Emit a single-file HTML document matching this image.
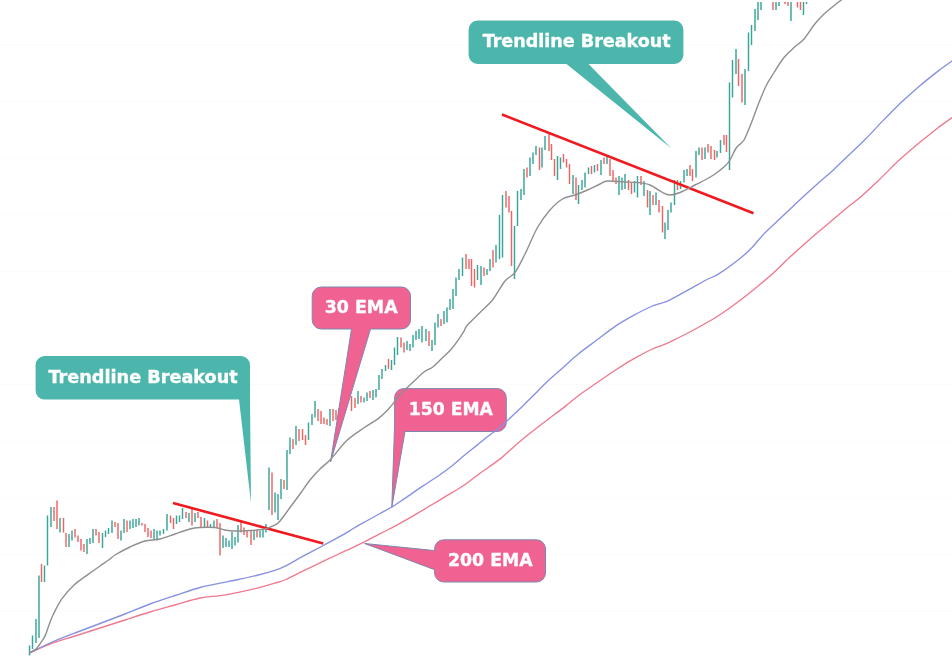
<!DOCTYPE html>
<html><head><meta charset="utf-8"><title>EMA Trendline Breakout</title>
<style>
html,body{margin:0;padding:0;background:#fff;}
body{width:952px;height:657px;overflow:hidden;}
svg{display:block;}
</style></head>
<body>
<svg width="952" height="657" viewBox="0 0 952 657">
<rect width="952" height="657" fill="#fff"/>
<g><line x1="0" y1="45.0" x2="952" y2="45.0" stroke="#fbfbfb" stroke-width="1"/><line x1="0" y1="101.6" x2="952" y2="101.6" stroke="#fbfbfb" stroke-width="1"/><line x1="0" y1="158.2" x2="952" y2="158.2" stroke="#fbfbfb" stroke-width="1"/><line x1="0" y1="214.8" x2="952" y2="214.8" stroke="#fbfbfb" stroke-width="1"/><line x1="0" y1="271.4" x2="952" y2="271.4" stroke="#fbfbfb" stroke-width="1"/><line x1="0" y1="328.0" x2="952" y2="328.0" stroke="#fbfbfb" stroke-width="1"/><line x1="0" y1="384.6" x2="952" y2="384.6" stroke="#fbfbfb" stroke-width="1"/><line x1="0" y1="441.2" x2="952" y2="441.2" stroke="#fbfbfb" stroke-width="1"/><line x1="0" y1="497.8" x2="952" y2="497.8" stroke="#fbfbfb" stroke-width="1"/><line x1="0" y1="554.4" x2="952" y2="554.4" stroke="#fbfbfb" stroke-width="1"/><line x1="0" y1="611.0" x2="952" y2="611.0" stroke="#fbfbfb" stroke-width="1"/></g>
<g stroke-width="1.45">
<line x1="29.5" y1="645.5" x2="29.5" y2="655.5" stroke="#38a599"/>
<line x1="32.5" y1="635.5" x2="32.5" y2="649.0" stroke="#38a599"/>
<line x1="36.0" y1="619.0" x2="36.0" y2="643.0" stroke="#38a599"/>
<line x1="39.0" y1="575.5" x2="39.0" y2="638.0" stroke="#38a599"/>
<line x1="41.5" y1="564.0" x2="41.5" y2="582.0" stroke="#ec6464"/>
<line x1="44.5" y1="565.5" x2="44.5" y2="582.0" stroke="#38a599"/>
<line x1="47.5" y1="515.5" x2="47.5" y2="565.5" stroke="#38a599"/>
<line x1="51.0" y1="507.0" x2="51.0" y2="527.0" stroke="#38a599"/>
<line x1="54.0" y1="507.0" x2="54.0" y2="521.0" stroke="#ec6464"/>
<line x1="57.0" y1="500.5" x2="57.0" y2="529.0" stroke="#ec6464"/>
<line x1="60.0" y1="518.0" x2="60.0" y2="532.5" stroke="#38a599"/>
<line x1="63.5" y1="518.0" x2="63.5" y2="532.5" stroke="#ec6464"/>
<line x1="66.0" y1="533.0" x2="66.0" y2="547.0" stroke="#ec6464"/>
<line x1="69.0" y1="534.0" x2="69.0" y2="547.0" stroke="#38a599"/>
<line x1="72.0" y1="530.5" x2="72.0" y2="540.5" stroke="#38a599"/>
<line x1="75.0" y1="529.0" x2="75.0" y2="537.5" stroke="#ec6464"/>
<line x1="78.0" y1="535.5" x2="78.0" y2="542.0" stroke="#ec6464"/>
<line x1="81.0" y1="539.0" x2="81.0" y2="550.5" stroke="#ec6464"/>
<line x1="84.0" y1="544.0" x2="84.0" y2="552.0" stroke="#ec6464"/>
<line x1="87.0" y1="539.0" x2="87.0" y2="554.0" stroke="#38a599"/>
<line x1="90.0" y1="538.0" x2="90.0" y2="544.0" stroke="#38a599"/>
<line x1="93.0" y1="529.0" x2="93.0" y2="543.0" stroke="#38a599"/>
<line x1="96.0" y1="529.0" x2="96.0" y2="535.5" stroke="#ec6464"/>
<line x1="99.0" y1="532.0" x2="99.0" y2="543.0" stroke="#ec6464"/>
<line x1="102.5" y1="533.0" x2="102.5" y2="548.0" stroke="#38a599"/>
<line x1="105.5" y1="530.5" x2="105.5" y2="537.0" stroke="#38a599"/>
<line x1="108.5" y1="528.0" x2="108.5" y2="534.0" stroke="#38a599"/>
<line x1="112.0" y1="520.5" x2="112.0" y2="533.0" stroke="#38a599"/>
<line x1="115.0" y1="522.0" x2="115.0" y2="527.0" stroke="#ec6464"/>
<line x1="118.0" y1="523.0" x2="118.0" y2="539.0" stroke="#ec6464"/>
<line x1="121.0" y1="530.5" x2="121.0" y2="540.5" stroke="#38a599"/>
<line x1="124.0" y1="519.0" x2="124.0" y2="533.0" stroke="#38a599"/>
<line x1="127.0" y1="520.5" x2="127.0" y2="532.0" stroke="#ec6464"/>
<line x1="130.0" y1="520.5" x2="130.0" y2="529.0" stroke="#38a599"/>
<line x1="133.0" y1="519.0" x2="133.0" y2="528.0" stroke="#38a599"/>
<line x1="136.0" y1="519.0" x2="136.0" y2="527.0" stroke="#38a599"/>
<line x1="139.0" y1="518.0" x2="139.0" y2="525.5" stroke="#38a599"/>
<line x1="142.0" y1="523.0" x2="142.0" y2="525.5" stroke="#ec6464"/>
<line x1="145.0" y1="524.0" x2="145.0" y2="532.0" stroke="#ec6464"/>
<line x1="148.0" y1="528.0" x2="148.0" y2="537.0" stroke="#ec6464"/>
<line x1="151.0" y1="530.5" x2="151.0" y2="538.0" stroke="#ec6464"/>
<line x1="154.0" y1="529.0" x2="154.0" y2="539.0" stroke="#38a599"/>
<line x1="157.0" y1="530.5" x2="157.0" y2="540.5" stroke="#38a599"/>
<line x1="160.0" y1="530.5" x2="160.0" y2="535.5" stroke="#38a599"/>
<line x1="163.5" y1="529.0" x2="163.5" y2="534.0" stroke="#38a599"/>
<line x1="167.0" y1="514.0" x2="167.0" y2="530.5" stroke="#38a599"/>
<line x1="170.5" y1="515.5" x2="170.5" y2="523.0" stroke="#ec6464"/>
<line x1="173.5" y1="518.0" x2="173.5" y2="529.0" stroke="#ec6464"/>
<line x1="176.5" y1="515.5" x2="176.5" y2="524.0" stroke="#38a599"/>
<line x1="179.5" y1="515.5" x2="179.5" y2="522.0" stroke="#38a599"/>
<line x1="182.5" y1="508.0" x2="182.5" y2="519.0" stroke="#38a599"/>
<line x1="186.0" y1="512.0" x2="186.0" y2="518.0" stroke="#ec6464"/>
<line x1="189.0" y1="513.0" x2="189.0" y2="522.0" stroke="#38a599"/>
<line x1="192.0" y1="508.0" x2="192.0" y2="525.5" stroke="#ec6464"/>
<line x1="195.0" y1="513.0" x2="195.0" y2="522.0" stroke="#38a599"/>
<line x1="198.0" y1="512.0" x2="198.0" y2="518.0" stroke="#ec6464"/>
<line x1="201.0" y1="517.0" x2="201.0" y2="528.0" stroke="#ec6464"/>
<line x1="204.5" y1="518.0" x2="204.5" y2="528.0" stroke="#38a599"/>
<line x1="207.5" y1="520.5" x2="207.5" y2="528.0" stroke="#ec6464"/>
<line x1="210.5" y1="524.0" x2="210.5" y2="528.0" stroke="#38a599"/>
<line x1="214.0" y1="520.5" x2="214.0" y2="527.0" stroke="#38a599"/>
<line x1="217.0" y1="519.0" x2="217.0" y2="527.0" stroke="#ec6464"/>
<line x1="220.0" y1="523.0" x2="220.0" y2="555.5" stroke="#ec6464"/>
<line x1="223.0" y1="535.5" x2="223.0" y2="548.0" stroke="#38a599"/>
<line x1="226.0" y1="538.0" x2="226.0" y2="547.0" stroke="#38a599"/>
<line x1="229.0" y1="540.5" x2="229.0" y2="547.0" stroke="#38a599"/>
<line x1="232.0" y1="532.0" x2="232.0" y2="549.0" stroke="#38a599"/>
<line x1="235.0" y1="537.0" x2="235.0" y2="545.5" stroke="#38a599"/>
<line x1="238.0" y1="525.0" x2="238.0" y2="542.5" stroke="#38a599"/>
<line x1="241.0" y1="521.0" x2="241.0" y2="532.5" stroke="#ec6464"/>
<line x1="244.0" y1="527.5" x2="244.0" y2="535.0" stroke="#ec6464"/>
<line x1="247.0" y1="530.0" x2="247.0" y2="537.5" stroke="#ec6464"/>
<line x1="251.0" y1="530.0" x2="251.0" y2="545.0" stroke="#ec6464"/>
<line x1="254.0" y1="530.0" x2="254.0" y2="540.0" stroke="#38a599"/>
<line x1="257.0" y1="530.0" x2="257.0" y2="537.5" stroke="#ec6464"/>
<line x1="260.0" y1="531.0" x2="260.0" y2="537.5" stroke="#38a599"/>
<line x1="263.0" y1="529.0" x2="263.0" y2="537.5" stroke="#38a599"/>
<line x1="266.0" y1="524.0" x2="266.0" y2="532.5" stroke="#38a599"/>
<line x1="269.0" y1="467.5" x2="269.0" y2="510.0" stroke="#38a599"/>
<line x1="272.0" y1="472.5" x2="272.0" y2="515.0" stroke="#ec6464"/>
<line x1="275.0" y1="492.5" x2="275.0" y2="512.5" stroke="#38a599"/>
<line x1="278.0" y1="494.0" x2="278.0" y2="520.0" stroke="#38a599"/>
<line x1="281.0" y1="479.0" x2="281.0" y2="499.0" stroke="#38a599"/>
<line x1="284.0" y1="480.0" x2="284.0" y2="489.0" stroke="#ec6464"/>
<line x1="287.0" y1="450.0" x2="287.0" y2="490.0" stroke="#38a599"/>
<line x1="290.0" y1="437.5" x2="290.0" y2="454.0" stroke="#38a599"/>
<line x1="293.0" y1="439.0" x2="293.0" y2="449.0" stroke="#ec6464"/>
<line x1="296.0" y1="426.0" x2="296.0" y2="445.0" stroke="#38a599"/>
<line x1="299.0" y1="429.0" x2="299.0" y2="441.0" stroke="#ec6464"/>
<line x1="302.5" y1="429.0" x2="302.5" y2="440.0" stroke="#ec6464"/>
<line x1="305.5" y1="435.0" x2="305.5" y2="445.0" stroke="#ec6464"/>
<line x1="308.5" y1="422.5" x2="308.5" y2="440.0" stroke="#38a599"/>
<line x1="312.0" y1="414.0" x2="312.0" y2="425.0" stroke="#38a599"/>
<line x1="315.0" y1="401.0" x2="315.0" y2="417.5" stroke="#38a599"/>
<line x1="318.0" y1="409.0" x2="318.0" y2="421.0" stroke="#ec6464"/>
<line x1="321.0" y1="411.0" x2="321.0" y2="424.0" stroke="#ec6464"/>
<line x1="324.0" y1="417.5" x2="324.0" y2="424.0" stroke="#ec6464"/>
<line x1="327.0" y1="419.0" x2="327.0" y2="425.0" stroke="#ec6464"/>
<line x1="330.0" y1="409.0" x2="330.0" y2="426.0" stroke="#38a599"/>
<line x1="333.0" y1="409.0" x2="333.0" y2="421.0" stroke="#ec6464"/>
<line x1="336.0" y1="410.0" x2="336.0" y2="420.0" stroke="#ec6464"/>
<line x1="339.0" y1="408.0" x2="339.0" y2="418.0" stroke="#38a599"/>
<line x1="342.0" y1="405.0" x2="342.0" y2="415.0" stroke="#38a599"/>
<line x1="345.0" y1="402.0" x2="345.0" y2="412.0" stroke="#38a599"/>
<line x1="351.5" y1="396.0" x2="351.5" y2="411.0" stroke="#ec6464"/>
<line x1="355.0" y1="398.0" x2="355.0" y2="408.0" stroke="#ec6464"/>
<line x1="358.0" y1="391.0" x2="358.0" y2="404.0" stroke="#38a599"/>
<line x1="361.0" y1="396.0" x2="361.0" y2="402.5" stroke="#ec6464"/>
<line x1="364.0" y1="397.5" x2="364.0" y2="402.5" stroke="#38a599"/>
<line x1="367.0" y1="392.5" x2="367.0" y2="401.0" stroke="#38a599"/>
<line x1="370.0" y1="391.0" x2="370.0" y2="398.0" stroke="#ec6464"/>
<line x1="373.0" y1="390.0" x2="373.0" y2="400.0" stroke="#38a599"/>
<line x1="376.0" y1="389.0" x2="376.0" y2="397.5" stroke="#38a599"/>
<line x1="379.0" y1="375.0" x2="379.0" y2="390.0" stroke="#38a599"/>
<line x1="382.0" y1="369.0" x2="382.0" y2="379.0" stroke="#38a599"/>
<line x1="385.5" y1="365.0" x2="385.5" y2="371.0" stroke="#38a599"/>
<line x1="388.5" y1="359.0" x2="388.5" y2="369.0" stroke="#ec6464"/>
<line x1="391.5" y1="360.0" x2="391.5" y2="370.0" stroke="#38a599"/>
<line x1="394.5" y1="347.5" x2="394.5" y2="365.0" stroke="#38a599"/>
<line x1="397.5" y1="337.0" x2="397.5" y2="355.0" stroke="#38a599"/>
<line x1="401.0" y1="337.5" x2="401.0" y2="347.5" stroke="#ec6464"/>
<line x1="404.0" y1="342.5" x2="404.0" y2="352.5" stroke="#ec6464"/>
<line x1="407.0" y1="341.0" x2="407.0" y2="350.0" stroke="#38a599"/>
<line x1="410.0" y1="344.0" x2="410.0" y2="351.0" stroke="#38a599"/>
<line x1="413.0" y1="335.0" x2="413.0" y2="347.5" stroke="#38a599"/>
<line x1="416.0" y1="331.0" x2="416.0" y2="340.0" stroke="#38a599"/>
<line x1="419.0" y1="329.0" x2="419.0" y2="339.0" stroke="#38a599"/>
<line x1="422.0" y1="326.0" x2="422.0" y2="342.5" stroke="#38a599"/>
<line x1="426.0" y1="329.0" x2="426.0" y2="341.0" stroke="#38a599"/>
<line x1="429.0" y1="331.0" x2="429.0" y2="346.0" stroke="#ec6464"/>
<line x1="432.0" y1="340.0" x2="432.0" y2="351.0" stroke="#38a599"/>
<line x1="435.0" y1="322.5" x2="435.0" y2="345.0" stroke="#38a599"/>
<line x1="438.0" y1="314.0" x2="438.0" y2="327.5" stroke="#38a599"/>
<line x1="441.0" y1="319.0" x2="441.0" y2="326.0" stroke="#ec6464"/>
<line x1="444.0" y1="311.0" x2="444.0" y2="324.0" stroke="#38a599"/>
<line x1="447.0" y1="307.5" x2="447.0" y2="322.5" stroke="#38a599"/>
<line x1="450.0" y1="299.0" x2="450.0" y2="310.0" stroke="#38a599"/>
<line x1="453.0" y1="289.0" x2="453.0" y2="309.0" stroke="#38a599"/>
<line x1="456.0" y1="277.5" x2="456.0" y2="296.0" stroke="#38a599"/>
<line x1="459.0" y1="269.0" x2="459.0" y2="280.0" stroke="#38a599"/>
<line x1="462.5" y1="257.5" x2="462.5" y2="276.0" stroke="#38a599"/>
<line x1="466.0" y1="254.0" x2="466.0" y2="269.0" stroke="#ec6464"/>
<line x1="469.0" y1="259.0" x2="469.0" y2="269.0" stroke="#ec6464"/>
<line x1="471.5" y1="259.0" x2="471.5" y2="286.0" stroke="#ec6464"/>
<line x1="474.5" y1="269.0" x2="474.5" y2="287.5" stroke="#ec6464"/>
<line x1="477.5" y1="265.0" x2="477.5" y2="280.0" stroke="#38a599"/>
<line x1="481.0" y1="266.0" x2="481.0" y2="285.0" stroke="#38a599"/>
<line x1="484.0" y1="267.5" x2="484.0" y2="276.0" stroke="#ec6464"/>
<line x1="487.0" y1="269.0" x2="487.0" y2="275.0" stroke="#38a599"/>
<line x1="490.0" y1="259.0" x2="490.0" y2="271.0" stroke="#38a599"/>
<line x1="493.0" y1="250.0" x2="493.0" y2="267.5" stroke="#ec6464"/>
<line x1="496.0" y1="245.0" x2="496.0" y2="262.5" stroke="#38a599"/>
<line x1="499.5" y1="215.0" x2="499.5" y2="259.0" stroke="#38a599"/>
<line x1="502.5" y1="195.0" x2="502.5" y2="257.5" stroke="#38a599"/>
<line x1="506.0" y1="191.0" x2="506.0" y2="207.5" stroke="#ec6464"/>
<line x1="509.0" y1="196.0" x2="509.0" y2="212.5" stroke="#ec6464"/>
<line x1="511.5" y1="211.0" x2="511.5" y2="266.0" stroke="#ec6464"/>
<line x1="514.5" y1="226.0" x2="514.5" y2="279.0" stroke="#38a599"/>
<line x1="517.5" y1="191.0" x2="517.5" y2="226.0" stroke="#38a599"/>
<line x1="521.0" y1="189.0" x2="521.0" y2="200.0" stroke="#38a599"/>
<line x1="524.0" y1="169.0" x2="524.0" y2="195.0" stroke="#38a599"/>
<line x1="527.0" y1="167.5" x2="527.0" y2="177.5" stroke="#ec6464"/>
<line x1="530.0" y1="157.5" x2="530.0" y2="176.0" stroke="#38a599"/>
<line x1="533.0" y1="152.5" x2="533.0" y2="164.0" stroke="#38a599"/>
<line x1="536.0" y1="146.0" x2="536.0" y2="155.0" stroke="#38a599"/>
<line x1="539.5" y1="147.5" x2="539.5" y2="170.0" stroke="#ec6464"/>
<line x1="542.0" y1="147.5" x2="542.0" y2="167.5" stroke="#38a599"/>
<line x1="545.0" y1="136.0" x2="545.0" y2="150.0" stroke="#38a599"/>
<line x1="549.0" y1="132.5" x2="549.0" y2="151.0" stroke="#ec6464"/>
<line x1="551.5" y1="144.0" x2="551.5" y2="160.0" stroke="#ec6464"/>
<line x1="554.5" y1="159.0" x2="554.5" y2="176.0" stroke="#ec6464"/>
<line x1="557.5" y1="156.0" x2="557.5" y2="180.0" stroke="#38a599"/>
<line x1="560.5" y1="157.5" x2="560.5" y2="169.0" stroke="#38a599"/>
<line x1="563.5" y1="154.0" x2="563.5" y2="162.5" stroke="#ec6464"/>
<line x1="566.5" y1="159.0" x2="566.5" y2="167.5" stroke="#ec6464"/>
<line x1="569.5" y1="164.0" x2="569.5" y2="184.0" stroke="#ec6464"/>
<line x1="573.0" y1="175.0" x2="573.0" y2="194.0" stroke="#38a599"/>
<line x1="576.0" y1="177.5" x2="576.0" y2="200.0" stroke="#ec6464"/>
<line x1="578.5" y1="185.0" x2="578.5" y2="204.0" stroke="#38a599"/>
<line x1="582.0" y1="180.0" x2="582.0" y2="190.0" stroke="#38a599"/>
<line x1="585.0" y1="172.5" x2="585.0" y2="187.5" stroke="#38a599"/>
<line x1="588.5" y1="167.5" x2="588.5" y2="174.0" stroke="#38a599"/>
<line x1="591.5" y1="166.0" x2="591.5" y2="174.0" stroke="#ec6464"/>
<line x1="594.5" y1="165.0" x2="594.5" y2="172.5" stroke="#38a599"/>
<line x1="597.5" y1="164.0" x2="597.5" y2="171.0" stroke="#ec6464"/>
<line x1="601.0" y1="160.0" x2="601.0" y2="175.0" stroke="#38a599"/>
<line x1="604.0" y1="157.5" x2="604.0" y2="164.0" stroke="#ec6464"/>
<line x1="607.0" y1="156.0" x2="607.0" y2="164.0" stroke="#38a599"/>
<line x1="610.0" y1="159.0" x2="610.0" y2="176.0" stroke="#ec6464"/>
<line x1="613.0" y1="170.0" x2="613.0" y2="181.0" stroke="#ec6464"/>
<line x1="616.0" y1="177.5" x2="616.0" y2="184.0" stroke="#ec6464"/>
<line x1="619.0" y1="176.0" x2="619.0" y2="195.0" stroke="#38a599"/>
<line x1="622.0" y1="177.5" x2="622.0" y2="190.0" stroke="#38a599"/>
<line x1="625.0" y1="174.0" x2="625.0" y2="189.0" stroke="#38a599"/>
<line x1="628.5" y1="180.0" x2="628.5" y2="190.0" stroke="#ec6464"/>
<line x1="631.5" y1="182.5" x2="631.5" y2="194.0" stroke="#ec6464"/>
<line x1="634.5" y1="181.0" x2="634.5" y2="192.5" stroke="#38a599"/>
<line x1="637.5" y1="176.0" x2="637.5" y2="197.5" stroke="#38a599"/>
<line x1="641.0" y1="176.0" x2="641.0" y2="185.0" stroke="#ec6464"/>
<line x1="644.0" y1="181.0" x2="644.0" y2="196.0" stroke="#38a599"/>
<line x1="647.5" y1="190.0" x2="647.5" y2="207.5" stroke="#ec6464"/>
<line x1="650.0" y1="191.0" x2="650.0" y2="215.0" stroke="#38a599"/>
<line x1="653.0" y1="195.0" x2="653.0" y2="205.0" stroke="#ec6464"/>
<line x1="656.0" y1="192.5" x2="656.0" y2="205.0" stroke="#38a599"/>
<line x1="659.0" y1="200.0" x2="659.0" y2="212.5" stroke="#ec6464"/>
<line x1="662.5" y1="206.0" x2="662.5" y2="232.5" stroke="#ec6464"/>
<line x1="665.0" y1="222.5" x2="665.0" y2="239.0" stroke="#38a599"/>
<line x1="668.0" y1="210.0" x2="668.0" y2="230.0" stroke="#38a599"/>
<line x1="671.0" y1="202.5" x2="671.0" y2="212.5" stroke="#38a599"/>
<line x1="674.5" y1="180.0" x2="674.5" y2="205.0" stroke="#38a599"/>
<line x1="677.5" y1="180.0" x2="677.5" y2="190.0" stroke="#ec6464"/>
<line x1="680.5" y1="181.0" x2="680.5" y2="189.0" stroke="#38a599"/>
<line x1="684.0" y1="170.0" x2="684.0" y2="182.5" stroke="#38a599"/>
<line x1="687.0" y1="169.0" x2="687.0" y2="176.0" stroke="#38a599"/>
<line x1="690.0" y1="165.0" x2="690.0" y2="176.0" stroke="#ec6464"/>
<line x1="692.5" y1="169.0" x2="692.5" y2="181.0" stroke="#ec6464"/>
<line x1="696.0" y1="151.0" x2="696.0" y2="177.5" stroke="#38a599"/>
<line x1="699.0" y1="147.5" x2="699.0" y2="155.0" stroke="#38a599"/>
<line x1="702.0" y1="147.5" x2="702.0" y2="160.0" stroke="#ec6464"/>
<line x1="705.0" y1="147.5" x2="705.0" y2="159.0" stroke="#38a599"/>
<line x1="708.0" y1="144.0" x2="708.0" y2="152.5" stroke="#ec6464"/>
<line x1="711.0" y1="146.0" x2="711.0" y2="159.0" stroke="#ec6464"/>
<line x1="714.5" y1="150.0" x2="714.5" y2="160.0" stroke="#ec6464"/>
<line x1="717.0" y1="151.0" x2="717.0" y2="157.5" stroke="#38a599"/>
<line x1="720.5" y1="140.0" x2="720.5" y2="153.0" stroke="#38a599"/>
<line x1="724.0" y1="135.0" x2="724.0" y2="145.0" stroke="#ec6464"/>
<line x1="726.5" y1="135.0" x2="726.5" y2="152.0" stroke="#ec6464"/>
<line x1="729.5" y1="82.5" x2="729.5" y2="170.0" stroke="#38a599"/>
<line x1="732.5" y1="60.0" x2="732.5" y2="97.5" stroke="#38a599"/>
<line x1="736.0" y1="49.0" x2="736.0" y2="74.0" stroke="#38a599"/>
<line x1="738.5" y1="59.0" x2="738.5" y2="86.0" stroke="#ec6464"/>
<line x1="742.0" y1="74.0" x2="742.0" y2="102.5" stroke="#ec6464"/>
<line x1="745.0" y1="69.0" x2="745.0" y2="105.0" stroke="#38a599"/>
<line x1="748.5" y1="32.5" x2="748.5" y2="71.0" stroke="#38a599"/>
<line x1="751.5" y1="25.0" x2="751.5" y2="45.0" stroke="#38a599"/>
<line x1="755.0" y1="9.0" x2="755.0" y2="31.0" stroke="#38a599"/>
<line x1="758.0" y1="2.0" x2="758.0" y2="20.0" stroke="#38a599"/>
<line x1="761.0" y1="2.0" x2="761.0" y2="10.0" stroke="#38a599"/>
<line x1="773.0" y1="2.0" x2="773.0" y2="10.0" stroke="#ec6464"/>
<line x1="776.0" y1="2.0" x2="776.0" y2="10.0" stroke="#38a599"/>
<line x1="779.0" y1="2.0" x2="779.0" y2="6.0" stroke="#38a599"/>
<line x1="785.0" y1="2.0" x2="785.0" y2="4.0" stroke="#ec6464"/>
<line x1="788.0" y1="2.0" x2="788.0" y2="6.0" stroke="#ec6464"/>
<line x1="791.0" y1="2.0" x2="791.0" y2="21.0" stroke="#38a599"/>
<line x1="797.5" y1="2.0" x2="797.5" y2="7.5" stroke="#ec6464"/>
<line x1="800.5" y1="2.0" x2="800.5" y2="10.0" stroke="#ec6464"/>
<line x1="803.5" y1="2.0" x2="803.5" y2="15.0" stroke="#38a599"/>
<line x1="806.5" y1="2.0" x2="806.5" y2="4.0" stroke="#38a599"/>
</g>

<!-- trendlines -->
<line x1="173" y1="503" x2="323.2" y2="543.5" stroke="#f01a20" stroke-width="2.6"/>
<line x1="502" y1="114.5" x2="753.5" y2="213.2" stroke="#f01a20" stroke-width="2.6"/>

<path d="M44.6,356 H241 A9,9 0 0 1 250,365 V400 L251,503 L239,399.6 H44.6 A9,9 0 0 1 35.6,390.6 V365 A9,9 0 0 1 44.6,356 Z" fill="#4db6ac"/>
<text x="143.1" y="382.9" font-family="DejaVu Sans, Liberation Sans, sans-serif" font-weight="bold" font-size="16.8" fill="#fff" stroke="#fff" stroke-width="0.35" text-anchor="middle" lengthAdjust="spacingAndGlyphs" textLength="189.2">Trendline Breakout</text>

<path d="M477.6,20.6 H674.4 A9,9 0 0 1 683.4,29.6 V54.9 A9,9 0 0 1 674.4,63.9 H588.5 L671.5,148.5 L566.5,63.9 H477.6 A9,9 0 0 1 468.6,54.9 V29.6 A9,9 0 0 1 477.6,20.6 Z" fill="#4db6ac"/>
<text x="576.7" y="47" font-family="DejaVu Sans, Liberation Sans, sans-serif" font-weight="bold" font-size="16.8" fill="#fff" stroke="#fff" stroke-width="0.35" text-anchor="middle" lengthAdjust="spacingAndGlyphs" textLength="188">Trendline Breakout</text>

<path d="M321.2,287 H401.5 A9,9 0 0 1 410.5,296 V320 A9,9 0 0 1 401.5,329 H370.5 L330.5,462 L351.5,329 H321.2 A9,9 0 0 1 312.2,320 V296 A9,9 0 0 1 321.2,287 Z" fill="#f06292" stroke="#7f86b0" stroke-width="1"/>
<text x="361.2" y="313.2" font-family="DejaVu Sans, Liberation Sans, sans-serif" font-weight="bold" font-size="16.8" fill="#fff" stroke="#fff" stroke-width="0.35" text-anchor="middle" lengthAdjust="spacingAndGlyphs" textLength="73">30 EMA</text>

<path d="M403.6,388.6 H497.3 A9,9 0 0 1 506.3,397.6 V422.5 A9,9 0 0 1 497.3,431.5 H405 L391.8,507.3 L394.6,424 V397.6 A9,9 0 0 1 403.6,388.6 Z" fill="#f06292" stroke="#7f86b0" stroke-width="1"/>
<text x="450.8" y="415.4" font-family="DejaVu Sans, Liberation Sans, sans-serif" font-weight="bold" font-size="16.8" fill="#fff" stroke="#fff" stroke-width="0.35" text-anchor="middle" lengthAdjust="spacingAndGlyphs" textLength="84">150 EMA</text>

<path d="M443.6,539.8 H536.5 A9,9 0 0 1 545.5,548.8 V573 A9,9 0 0 1 536.5,582 H443.6 A9,9 0 0 1 434.6,573 V569.7 L364.6,543.5 L434.6,550.6 V548.8 A9,9 0 0 1 443.6,539.8 Z" fill="#f06292" stroke="#7f86b0" stroke-width="1"/>
<text x="490.3" y="566" font-family="DejaVu Sans, Liberation Sans, sans-serif" font-weight="bold" font-size="16.8" fill="#fff" stroke="#fff" stroke-width="0.35" text-anchor="middle" lengthAdjust="spacingAndGlyphs" textLength="84.5">200 EMA</text>


<path d="M29.5,653.0 C32.9,651.5 42.4,646.8 50.0,644.0 C57.6,641.2 66.7,638.7 75.0,636.0 C83.3,633.3 91.7,630.7 100.0,628.0 C108.3,625.3 116.7,622.7 125.0,620.0 C133.3,617.3 141.7,614.5 150.0,612.0 C158.3,609.5 166.7,607.3 175.0,605.0 C183.3,602.7 192.5,599.6 200.0,598.0 C207.5,596.4 213.6,596.6 220.0,595.6 C226.4,594.6 232.2,593.5 238.3,592.3 C244.4,591.1 250.4,589.8 256.5,588.3 C262.6,586.8 269.9,584.7 274.8,583.2 C279.7,581.7 281.2,581.5 285.8,579.5 C290.4,577.5 296.4,574.1 302.2,571.3 C308.0,568.5 314.4,565.5 320.5,562.6 C326.6,559.7 333.8,556.3 338.7,554.0 C343.6,551.7 346.6,550.4 350.0,548.8 C353.4,547.2 356.2,545.8 359.3,544.3 C362.4,542.8 363.8,542.1 368.3,539.8 C372.8,537.5 381.2,533.2 386.5,530.5 C391.8,527.8 395.3,525.9 400.0,523.3 C404.7,520.7 409.9,517.8 414.8,514.9 C419.8,512.0 424.8,509.0 429.7,506.0 C434.6,503.0 439.6,500.1 444.5,497.1 C449.4,494.2 455.2,490.9 459.3,488.3 C463.4,485.7 465.8,484.0 469.2,481.5 C472.6,479.0 476.8,475.6 480.0,473.2 C483.2,470.8 485.2,469.7 488.7,467.2 C492.2,464.7 496.8,461.7 500.9,458.4 C505.0,455.1 509.0,450.9 513.1,447.4 C517.2,443.8 520.8,440.8 525.3,437.1 C529.8,433.5 536.2,428.4 540.0,425.5 C543.8,422.6 543.5,422.8 547.9,419.5 C552.2,416.2 560.8,409.8 566.1,405.6 C571.5,401.4 574.9,398.3 580.0,394.5 C585.1,390.7 590.7,387.0 596.5,383.0 C602.3,379.0 608.7,374.5 614.8,370.5 C620.9,366.5 627.0,362.6 633.1,359.1 C639.2,355.6 646.4,351.8 651.3,349.5 C656.2,347.2 659.2,346.5 662.3,345.3 C665.3,344.1 665.3,344.2 669.6,342.1 C673.9,340.1 681.8,336.2 687.9,333.0 C694.0,329.8 700.8,326.1 706.1,323.0 C711.5,319.9 714.9,318.0 720.0,314.7 C725.1,311.4 730.7,307.3 736.5,303.0 C742.3,298.7 748.7,293.7 754.8,288.7 C760.9,283.7 767.0,278.7 773.1,273.2 C779.2,267.7 785.2,261.4 791.3,255.8 C797.4,250.2 803.5,244.7 809.6,239.4 C815.7,234.1 821.8,229.1 827.9,223.9 C834.0,218.7 840.8,212.8 846.1,208.4 C851.5,204.0 854.7,202.0 860.0,197.4 C865.3,192.8 871.4,187.3 878.0,181.0 C884.6,174.7 892.8,166.0 899.8,159.6 C906.8,153.2 913.5,147.6 919.9,142.3 C926.3,137.0 932.8,131.8 938.1,127.7 C943.5,123.6 948.7,120.0 952.0,117.6 C955.3,115.2 957.0,114.2 958.0,113.5" fill="none" stroke="#ef7990" stroke-width="1.35"/>
<path d="M29.5,653.0 C32.9,651.3 42.4,646.3 50.0,643.0 C57.6,639.7 66.7,636.2 75.0,633.0 C83.3,629.8 91.7,626.7 100.0,623.5 C108.3,620.3 116.7,617.2 125.0,614.0 C133.3,610.8 141.7,607.1 150.0,604.0 C158.3,600.9 166.7,598.2 175.0,595.5 C183.3,592.8 192.5,589.5 200.0,587.5 C207.5,585.5 213.6,584.5 220.0,583.2 C226.4,581.9 232.2,580.8 238.3,579.5 C244.4,578.2 250.4,577.0 256.5,575.5 C262.6,574.0 269.9,572.0 274.8,570.4 C279.7,568.8 281.2,568.1 285.8,565.8 C290.4,563.5 296.4,559.8 302.2,556.7 C308.0,553.6 314.4,550.2 320.5,547.0 C326.6,543.8 333.8,539.9 338.7,537.2 C343.6,534.5 346.6,532.7 350.0,530.6 C353.4,528.5 356.2,526.6 359.3,524.8 C362.4,523.0 364.9,521.9 368.3,520.0 C371.8,518.1 376.1,515.7 380.0,513.5 C383.9,511.3 387.9,509.5 392.0,507.0 C396.1,504.5 399.6,501.9 404.8,498.4 C410.0,494.9 417.2,489.8 423.1,485.9 C429.0,482.0 435.1,478.2 440.0,474.8 C444.9,471.4 448.1,468.9 452.2,465.7 C456.3,462.4 460.3,458.6 464.4,455.3 C468.4,452.0 472.4,448.9 476.5,445.6 C480.6,442.4 485.0,438.7 488.7,435.8 C492.4,432.9 495.3,431.1 498.5,428.5 C501.7,425.9 503.7,423.9 507.7,420.2 C511.7,416.5 517.4,411.2 522.3,406.5 C527.2,401.8 532.6,396.1 536.9,391.9 C541.2,387.6 544.0,384.6 547.9,381.0 C551.8,377.4 554.9,374.8 560.0,370.3 C565.1,365.8 572.2,359.0 578.3,354.0 C584.4,349.0 590.4,344.9 596.5,340.3 C602.6,335.7 608.7,330.7 614.8,326.6 C620.9,322.5 627.0,319.1 633.1,315.7 C639.2,312.3 646.4,308.6 651.3,306.5 C656.2,304.4 659.2,304.0 662.3,302.9 C665.3,301.8 665.3,302.2 669.6,300.1 C673.9,298.0 681.8,293.5 687.9,290.1 C694.0,286.8 701.0,282.7 706.1,280.0 C711.2,277.3 713.2,277.2 718.3,274.1 C723.4,271.0 731.0,265.6 736.5,261.3 C742.0,257.0 746.5,253.1 751.1,248.5 C755.7,243.9 758.7,239.2 763.9,233.9 C769.1,228.6 776.1,222.4 782.2,216.6 C788.3,210.8 794.4,204.8 800.5,199.2 C806.6,193.6 813.2,187.7 818.7,182.8 C824.2,177.9 828.9,174.0 833.3,170.0 C837.7,166.0 839.7,163.8 845.0,158.7 C850.3,153.6 858.7,145.9 865.1,139.5 C871.5,133.1 877.2,126.6 883.3,120.4 C889.4,114.2 895.5,107.9 901.6,102.1 C907.7,96.3 913.8,90.9 919.9,85.7 C926.0,80.5 932.8,75.2 938.1,71.1 C943.5,67.0 948.7,63.4 952.0,61.0 C955.3,58.6 957.0,57.7 958.0,57.0" fill="none" stroke="#8790e2" stroke-width="1.35"/>
<path d="M29.5,653.0 C30.1,652.6 31.8,651.6 33.0,650.8 C34.2,650.0 35.5,649.6 36.8,648.2 C38.1,646.8 39.6,644.5 41.0,642.4 C42.4,640.3 43.8,638.7 45.2,635.6 C46.6,632.5 48.0,627.5 49.4,623.9 C50.8,620.3 51.5,618.0 53.6,613.8 C55.7,609.6 58.6,603.5 62.0,598.7 C65.4,593.9 69.6,589.1 73.8,585.2 C78.0,581.3 82.8,578.3 87.2,575.1 C91.6,571.9 96.4,568.5 100.0,566.0 C103.6,563.5 106.5,561.6 109.0,559.8 C111.5,558.0 111.5,557.1 115.0,555.0 C118.5,552.9 125.0,549.3 130.0,547.0 C135.0,544.7 140.0,542.3 145.0,541.0 C150.0,539.7 155.0,540.2 160.0,539.0 C165.0,537.8 170.0,535.7 175.0,534.0 C180.0,532.3 185.8,530.1 190.0,529.0 C194.2,527.9 195.8,527.8 200.0,527.5 C204.2,527.2 210.8,527.1 215.0,527.5 C219.2,527.9 221.7,529.4 225.0,530.0 C228.3,530.6 230.8,530.9 235.0,531.0 C239.2,531.1 245.0,530.8 250.0,530.5 C255.0,530.2 260.8,529.9 265.0,529.0 C269.2,528.1 272.5,526.3 275.0,525.0 C277.5,523.7 277.5,523.9 280.0,521.0 C282.5,518.1 286.7,512.0 290.0,507.5 C293.3,503.0 296.7,498.6 300.0,494.0 C303.3,489.4 306.7,484.2 310.0,480.0 C313.3,475.8 316.6,472.4 320.0,469.0 C323.4,465.6 326.0,464.3 330.5,459.5 C335.0,454.7 341.3,445.7 347.0,440.3 C352.7,434.9 359.6,431.0 364.8,427.3 C370.1,423.6 374.6,421.4 378.5,418.4 C382.4,415.3 385.6,412.1 388.5,409.0 C391.4,405.9 393.3,403.1 396.0,400.0 C398.7,396.9 401.5,393.4 404.5,390.3 C407.5,387.2 410.8,384.2 414.0,381.2 C417.2,378.1 420.9,374.3 424.0,372.0 C427.1,369.7 429.7,369.3 432.5,367.2 C435.3,365.1 438.0,362.1 441.0,359.2 C444.0,356.3 447.7,353.1 450.5,350.0 C453.3,346.9 455.8,343.5 458.0,340.4 C460.2,337.3 462.4,333.8 464.0,331.2 C465.6,328.6 464.8,328.1 467.5,325.0 C470.2,321.9 475.8,316.7 480.0,312.5 C484.2,308.3 488.3,305.2 492.5,300.0 C496.7,294.8 501.2,285.6 505.0,281.0 C508.8,276.4 511.7,277.0 515.0,272.5 C518.3,268.0 521.2,261.5 525.0,254.0 C528.8,246.5 533.3,234.8 537.5,227.5 C541.7,220.2 545.8,214.8 550.0,210.0 C554.2,205.2 558.3,201.5 562.5,199.0 C566.7,196.5 570.8,196.5 575.0,195.0 C579.2,193.5 583.3,191.8 587.5,190.0 C591.7,188.2 596.7,185.5 600.0,184.0 C603.3,182.5 603.3,181.3 607.5,181.0 C611.7,180.7 620.0,181.8 625.0,182.0 C630.0,182.2 633.3,182.0 637.5,182.5 C641.7,183.0 645.8,183.3 650.0,185.0 C654.2,186.7 659.2,190.8 662.5,192.5 C665.8,194.2 667.1,195.0 670.0,195.0 C672.9,195.0 675.8,194.2 680.0,192.5 C684.2,190.8 690.8,187.1 695.0,185.0 C699.2,182.9 701.7,181.8 705.0,180.0 C708.3,178.2 711.7,176.3 715.0,174.0 C718.3,171.7 722.5,168.3 725.0,166.0 C727.5,163.7 728.1,163.1 730.0,160.0 C731.9,156.9 734.2,150.8 736.5,147.5 C738.8,144.2 741.5,144.2 744.0,140.0 C746.5,135.8 749.0,128.8 751.5,122.5 C754.0,116.2 756.5,108.8 759.0,102.5 C761.5,96.2 764.0,90.0 766.5,85.0 C769.0,80.0 771.1,77.1 774.0,72.5 C776.9,67.9 780.7,61.7 784.0,57.5 C787.3,53.3 790.7,50.6 794.0,47.5 C797.3,44.4 800.7,42.8 804.0,39.0 C807.3,35.2 810.7,29.2 814.0,25.0 C817.3,20.8 820.0,17.8 824.0,14.0 C828.0,10.2 834.5,5.3 838.0,2.5 C841.5,-0.3 843.8,-2.1 845.0,-3.0" fill="none" stroke="#8f8f8f" stroke-width="1.4"/>

</svg>
</body></html>
